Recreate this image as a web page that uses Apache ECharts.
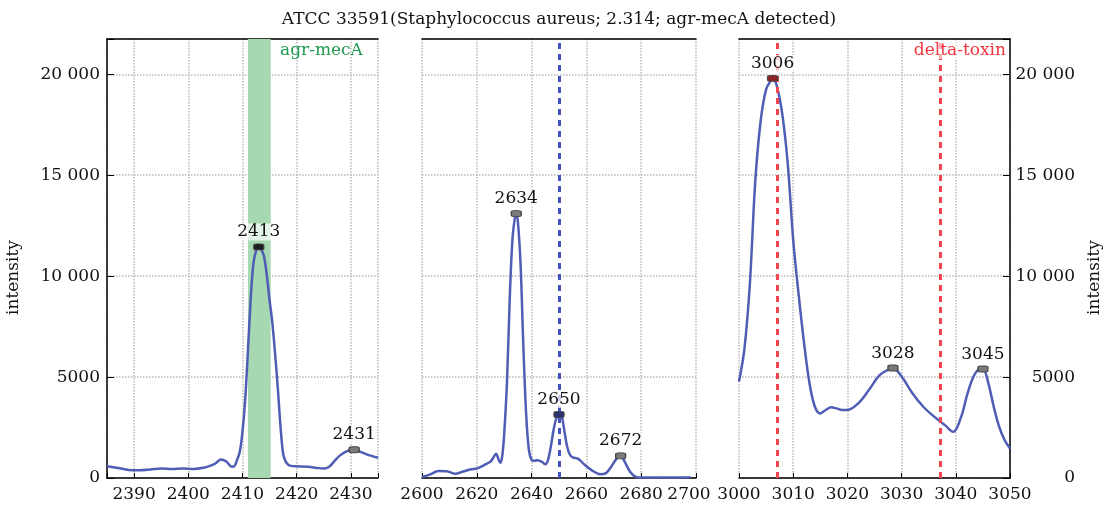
<!DOCTYPE html>
<html>
<head>
<meta charset="utf-8">
<script src="https://cdn.jsdelivr.net/npm/echarts/dist/echarts.min.js"></script>
<style>
  html, body { margin: 0; padding: 0; background: #fff; }
  #chart { width: 1118px; height: 505px; }
</style>
</head>
<body>
<div id="chart"></div>
<script>
// spectrum pieces, m/z vs intensity
const leftMz = [2385, 2387, 2389, 2391, 2393, 2395, 2397, 2399, 2401, 2403, 2404, 2405, 2406, 2407, 2408, 2408.5, 2409, 2409.5, 2410, 2410.5, 2411, 2411.5, 2412, 2412.5, 2413, 2413.5, 2414, 2414.5, 2415, 2415.5, 2416, 2416.5, 2417, 2417.5, 2418, 2418.5, 2419, 2420, 2422, 2424, 2425, 2426, 2427, 2428, 2429, 2430, 2430.6, 2431, 2432, 2433, 2434, 2435]
const leftIntensity = [580, 500, 400, 380, 420, 470, 450, 470, 450, 520, 600, 720, 920, 820, 560, 580, 900, 1300, 2300, 3900, 6300, 8800, 10600, 11250, 11450, 11300, 10950, 10000, 8800, 7700, 6200, 4500, 2600, 1200, 800, 650, 600, 580, 560, 490, 470, 560, 850, 1120, 1300, 1390, 1400, 1380, 1270, 1160, 1080, 1000]

const midMz = [2600, 2603, 2606, 2609, 2612, 2615, 2618, 2620, 2623, 2625, 2626, 2627, 2628, 2628.6, 2629.3, 2630, 2631, 2632, 2633, 2634, 2634.4, 2635, 2636, 2637, 2638, 2639, 2640, 2641, 2642, 2643, 2644, 2645, 2646, 2647, 2648, 2649, 2650, 2651, 2652, 2653, 2654, 2655, 2657, 2659, 2662, 2665, 2667, 2669, 2671, 2672, 2672.5, 2673, 2674, 2676, 2678, 2680, 2685, 2690, 2695, 2698]
const midIntensity = [50, 180, 350, 340, 210, 320, 430, 470, 660, 820, 1000, 1200, 900, 750, 1100, 2200, 4700, 8800, 11800, 13000, 13100, 12700, 10500, 6500, 3200, 1400, 900, 850, 880, 850, 780, 680, 900, 1540, 2370, 2950, 3150, 3050, 2300, 1540, 1150, 1020, 950, 700, 380, 190, 230, 550, 960, 1080, 1100, 1050, 800, 300, 60, 20, 20, 30, 20, 40]

const rightMz = [3000, 3001, 3002, 3003, 3004, 3005, 3006, 3006.2, 3007, 3008, 3009, 3010, 3011, 3012, 3013, 3014, 3015, 3016, 3017, 3018, 3019, 3020, 3022, 3024, 3026, 3028, 3028.4, 3030, 3032, 3034, 3036, 3038, 3039.5, 3041, 3042, 3043, 3044, 3045, 3046, 3047, 3048, 3049, 3050]
const rightIntensity = [4780, 6400, 9600, 14700, 17700, 19250, 19750, 19800, 19400, 18000, 15550, 11800, 9100, 6700, 4700, 3530, 3200, 3370, 3500, 3450, 3370, 3370, 3700, 4370, 5110, 5430, 5450, 5030, 4200, 3530, 3040, 2620, 2290, 3040, 4030, 4860, 5330, 5400, 4700, 3530, 2540, 1880, 1460]

// labelled peaks
const leftPeakMz = [2413, 2430.6]
const leftPeakIntensity = [11450, 1400]
const leftPeakLabel = ['2413', '2431']
const midPeakMz = [2634.4, 2650, 2672.5]
const midPeakIntensity = [13100, 3150, 1100]
const midPeakLabel = ['2634', '2650', '2672']
const rightPeakMz = [3006.2, 3028.4, 3045]
const rightPeakIntensity = [19800, 5450, 5400]
const rightPeakLabel = ['3006', '3028', '3045']

// reference lines / band
const agrBand = [2411, 2415.2]
const midRefLine = [2650]
const deltaToxinLines = [3007.1, 3037.1]

const yTicks = [0, 5000, 10000, 15000, 20000]
const yMax = 21750

const FONT = 'DejaVu Serif'
const LINE = '#4f5db5'
const GRIDC = '#b9b9b9'

// marker colour depends on what's drawn under it
const markerFill = {'2413': '#1f1f1f', '2650': '#28306e', '3006': '#8e2226'}

function fmtY(v) {
    if (yTicks.indexOf(v) < 0) return ''
    if (v >= 10000) return Math.floor(v / 1000) + ' ' + String(v % 1000).padStart(3, '0')
    return String(v)
}

function zip(xs, ys) {
    return xs.map((x, i) => [x, ys[i]])
}

function peakData(xs, ys, labels) {
    return xs.map((x, i) => ({
        value: [x, ys[i]],
        name: labels[i],
        itemStyle: {color: markerFill[labels[i]] || '#7a7a7a'}
    }))
}

const grids = [
    {left: 107, top: 39, width: 271, height: 439},
    {left: 422, top: 39, width: 274, height: 439},
    {left: 739, top: 39, width: 271, height: 439},
]
const xRanges = [[2385, 2435, 10], [2600, 2700, 20], [3000, 3050, 10]]

const xAxes = []
xRanges.forEach((r, i) => {
    xAxes.push({
        type: 'value', gridIndex: i, min: r[0], max: r[1],
        interval: r[0] % r[2] === 0 ? r[2] : undefined,
        splitNumber: 5,
        axisLine: {show: true, lineStyle: {color: '#000', width: 1.5}},
        axisTick: {show: true, inside: true, length: 5, lineStyle: {color: '#000'}},
        axisLabel: {
            color: '#111', fontFamily: FONT, fontSize: 17, margin: 8,
            formatter: v => {
                if (v % r[2] !== 0) return ''
                // middle panel's last label is nudged left so it clears 3000
                if (i === 1 && v === r[1]) return '{m|' + v + '}'
                return String(v)
            },
            rich: {m: {fontFamily: FONT, fontSize: 17, color: '#111', padding: [0, 14, 0, 0]}}
        },
        splitLine: {show: true, lineStyle: {color: GRIDC, type: 'dotted', width: 1.5}}
    })
    // top frame line
    xAxes.push({
        type: 'value', gridIndex: i, position: 'top', min: r[0], max: r[1],
        axisLine: {show: true, onZero: false, lineStyle: {color: '#000', width: 1.5}},
        axisTick: {show: false},
        axisLabel: {show: false},
        splitLine: {show: false}
    })
})

const yBase = {
    type: 'value', min: 0, max: yMax, interval: 5000,
    splitLine: {show: true, lineStyle: {color: GRIDC, type: 'dotted', width: 1.5}},
    axisTick: {show: true, inside: true, length: 7, lineStyle: {color: '#000'}},
    nameTextStyle: {color: '#111', fontFamily: FONT, fontSize: 17, padding: [0, 38, 0, 0]}
}
const yAxes = [
    Object.assign({}, yBase, {
        gridIndex: 0, position: 'left',
        name: 'intensity', nameLocation: 'middle', nameRotate: 90, nameGap: 85,
        axisLine: {show: true, lineStyle: {color: '#000', width: 1.5}},
        axisLabel: {color: '#111', fontFamily: FONT, fontSize: 17, margin: 7, formatter: fmtY}
    }),
    Object.assign({}, yBase, {
        gridIndex: 1,
        axisLine: {show: false},
        axisTick: {show: false},
        axisLabel: {show: false}
    }),
    Object.assign({}, yBase, {
        gridIndex: 2, position: 'right',
        name: 'intensity', nameLocation: 'middle', nameRotate: 90, nameGap: 76,
        axisLine: {show: true, lineStyle: {color: '#000', width: 1.5}},
        axisLabel: {color: '#111', fontFamily: FONT, fontSize: 17, margin: 65, align: 'right', formatter: fmtY}
    }),
]

const peakLabel = {
    show: true, position: 'top', distance: 3,
    formatter: p => p.name,
    color: '#111', fontFamily: FONT, fontSize: 17,
    backgroundColor: 'rgba(255,255,255,0.7)', padding: [0, 1]
}

function spectrum(idx, xs, ys, extra) {
    return Object.assign({
        type: 'line', xAxisIndex: idx * 2, yAxisIndex: idx,
        data: zip(xs, ys), smooth: 0.35, showSymbol: false, z: 3,
        lineStyle: {color: LINE, width: 2.5},
        itemStyle: {color: LINE}
    }, extra || {})
}

function peaks(idx, xs, ys, labels) {
    return {
        type: 'scatter', xAxisIndex: idx * 2, yAxisIndex: idx,
        data: peakData(xs, ys, labels), z: 5,
        symbol: 'roundRect', symbolSize: [10, 6],
        itemStyle: {borderColor: '#444', borderWidth: 1, opacity: 1},
        label: peakLabel
    }
}

const option = {
    animation: false,
    title: {
        text: 'ATCC 33591(Staphylococcus aureus; 2.314; agr-mecA detected)',
        left: 'center', top: 6,
        textStyle: {fontFamily: FONT, fontSize: 17, fontWeight: 'normal', color: '#111'}
    },
    grid: grids,
    xAxis: xAxes,
    yAxis: yAxes,
    graphic: [
        {type: 'text', left: 280, top: 42, z: 10,
         style: {text: 'agr-mecA', fill: '#1f9a52', font: '17px "DejaVu Serif"'}},
        {type: 'text', right: 112, top: 42, z: 10,
         style: {text: 'delta-toxin', fill: '#f0343e', font: '17px "DejaVu Serif"',
                 backgroundColor: 'rgba(255,255,255,0.6)'}}
    ],
    series: [
        spectrum(0, leftMz, leftIntensity, {
            markArea: {
                silent: true,
                itemStyle: {color: '#a6d8b1'},
                data: [[{xAxis: agrBand[0]}, {xAxis: agrBand[1]}]]
            }
        }),
        peaks(0, leftPeakMz, leftPeakIntensity, leftPeakLabel),
        spectrum(1, midMz, midIntensity, {
            markLine: {
                silent: true, symbol: 'none', label: {show: false},
                lineStyle: {color: '#4352bd', width: 3, type: [6, 5]},
                data: midRefLine.map(x => ({xAxis: x}))
            }
        }),
        peaks(1, midPeakMz, midPeakIntensity, midPeakLabel),
        spectrum(2, rightMz, rightIntensity, {
            markLine: {
                silent: true, symbol: 'none', label: {show: false},
                lineStyle: {color: '#f2454f', width: 3, type: [6, 5]},
                data: deltaToxinLines.map(x => ({xAxis: x}))
            }
        }),
        peaks(2, rightPeakMz, rightPeakIntensity, rightPeakLabel),
    ]
}

const myChart = echarts.init(document.getElementById('chart'))
myChart.setOption(option)
</script>
</body>
</html>
